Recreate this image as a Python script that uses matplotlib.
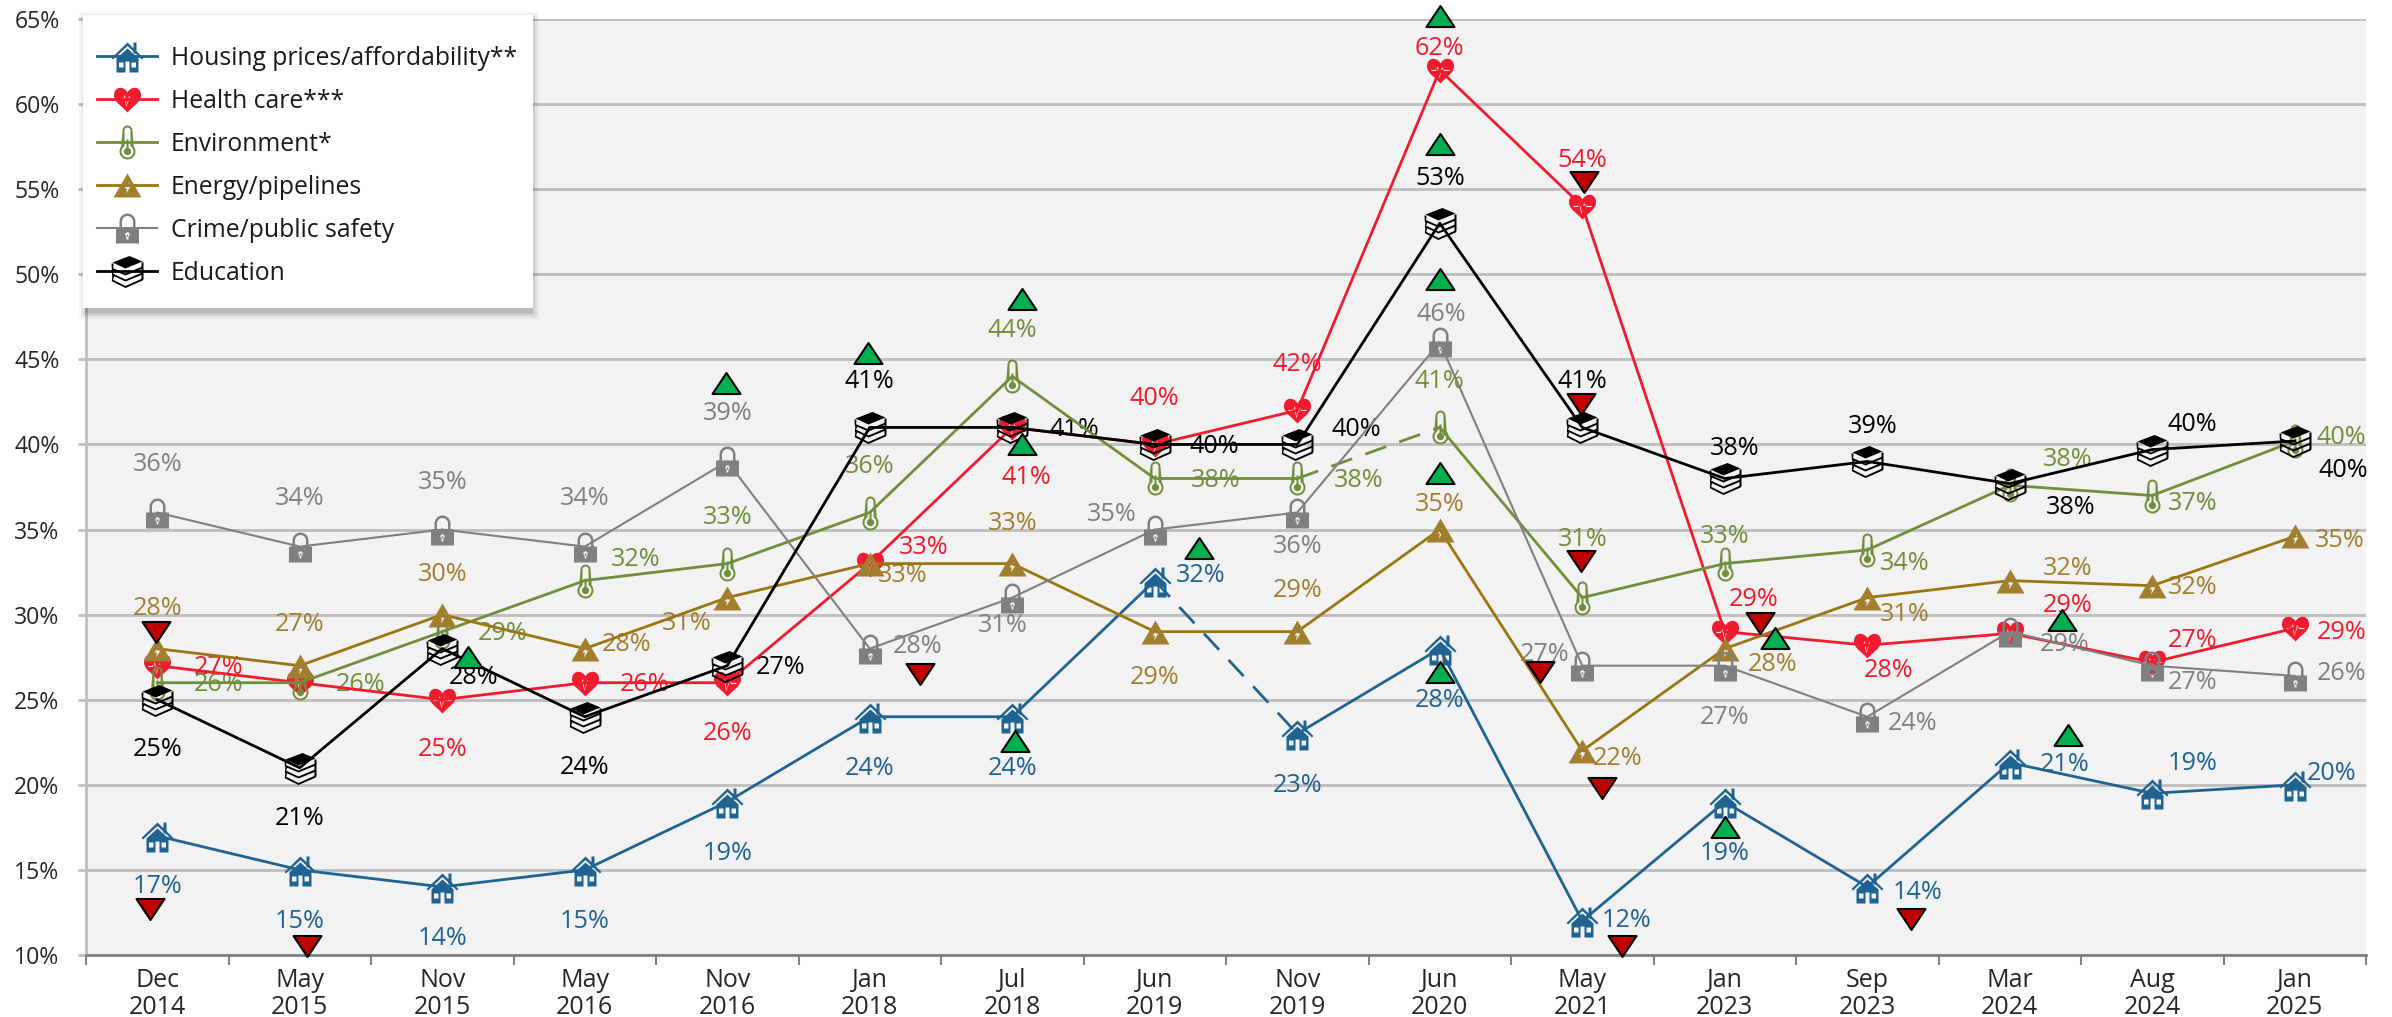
import numpy as np
import matplotlib
matplotlib.use("Agg")
import matplotlib.pyplot as plt
from matplotlib.path import Path
from matplotlib.lines import Line2D
from matplotlib.patches import Rectangle
from matplotlib.transforms import Affine2D

W, H = 2392, 1017
plt.rcParams['font.family'] = ['Open Sans', 'DejaVu Sans']

# ---------- data ----------
categories = ["Dec\n2014", "May\n2015", "Nov\n2015", "May\n2016", "Nov\n2016", "Jan\n2018", "Jul\n2018", "Jun\n2019",
              "Nov\n2019", "Jun\n2020", "May\n2021", "Jan\n2023", "Sep\n2023", "Mar\n2024", "Aug\n2024", "Jan\n2025"]
yticks = [10, 15, 20, 25, 30, 35, 40, 45, 50, 55, 60, 65]

housing = [17, 15, 14, 15, 19, 24, 24, 32, 23, 28, 12, 19, 14, 21.3, 19.5, 20]
health = [27, 26, 25, 26, 26, 33, 41, 40, 42, 62, 54, 29, 28.2, 28.9, 27.2, 29.2]
environment = [26, 26, 29, 32, 33, 36, 44, 38, 38, 41, 31, 33, 33.8, 37.6, 37, 40.2]
energy = [28, 27, 30, 28, 31, 33, 33, 29, 29, 35, 22, 28, 31, 32, 31.7, 34.6]
crime = [36, 34, 35, 34, 39, 28, 31, 35, 36, 46, 27, 27, 24, 29, 27, 26.4]
education = [25, 21, 28, 24, 27, 41, 41, 40, 40, 53, 41, 38, 39, 37.7, 39.7, 40.2]

housing_labels = [17, 15, 14, 15, 19, 24, 24, 32, 23, 28, 12, 19, 14, 21, 19, 20]
health_labels = [27, None, 25, 26, 26, 33, 41, 40, 42, 62, 54, 29, 28, 29, 27, 29]
environment_labels = [26, 26, 29, 32, 33, 36, 44, 38, 38, 41, 31, 33, 34, 38, 37, 40]
energy_labels = [28, 27, 30, 28, 31, 33, 33, 29, 29, 35, 22, 28, 31, 32, 32, 35]
crime_labels = [36, 34, 35, 34, 39, 28, 31, 35, 36, 46, 27, 27, 24, 29, 27, 26]
education_labels = [25, 21, 28, 24, 27, 41, 41, 40, 40, 53, 41, 38, 39, 38, 40, 40]

# significance arrows: category position, percent
up_x = [2.18, 3.99, 4.99, 6.07, 6.07, 6.02, 7.31, 9.0, 9.0, 9.0, 9.0, 9.0, 11.0, 11.35, 13.37, 13.41]
up_y = [27.5, 43.6, 45.4, 48.55, 40.0, 22.6, 33.9, 65.2, 57.66, 49.7, 38.3, 26.6, 17.5, 28.6, 29.7, 22.9]
down_x = [-0.01, -0.05, 1.05, 5.35, 10.01, 9.99, 9.99, 9.7, 10.14, 10.28, 11.25, 12.31]
down_y = [29.0, 12.7, 10.5, 26.5, 55.44, 42.4, 33.15, 26.6, 19.8, 10.5, 29.5, 12.1]

# label offsets from the point, in pixels (right, down)
housing_off = [(0, 49), (0, 50), (0, 50), (0, 50), (0, 50), (0, 50), (0, 50), (46, -7), (0, 50), (0, 50), (44, -2),
               (0, 50), (50, 4), (55, 0), (40, -32), (37, -13)]
health_off = [(61, 0), (0, 0), (0, 48), (60, 0), (0, 49), (54, -18), (14, 48), (0, -48), (0, -48), (0, -24), (0, -48),
              (29, -34), (21, 23), (58, -30), (40, -24), (47, 2)]
environment_off = [(61, 0), (61, 0), (60, 0), (51, -23), (0, -48), (0, -48), (0, -48), (61, 0), (61, 0), (0, -48),
                   (0, -60), (0, -29), (37, 12), (58, -28), (40, 6), (47, -6)]
energy_off = [(0, -42), (0, -43), (0, -42), (42, -6), (-41, 24), (33, 10), (0, -42), (0, 44), (0, -43), (0, -27),
              (35, 6), (48, 14), (37, 15), (58, -14), (40, 0), (45, 2)]
crime_off = [(0, -50), (0, -50), (0, -49), (0, -50), (0, -50), (48, -4), (-10, 26), (-43, -17), (0, 32), (2, -30),
             (-38, -13), (0, 50), (45, 5), (55, 11), (40, 15), (47, -4)]
education_off = [(0, 48), (0, 49), (31, 27), (0, 49), (53, 0), (0, -48), (62, 0), (60, 0), (59, -17), (0, -47),
                 (0, -48), (10, -32), (5, -37), (61, 22), (40, -27), (49, 27)]


# ---------- marker glyphs, drawn in pixels around the data point ----------
def poly(pts, hole=False):
    p = np.asarray(pts, float)
    area = 0.5 * np.sum(p[:, 0] * np.roll(p[:, 1], -1) - np.roll(p[:, 0], -1) * p[:, 1])
    if (area > 0) == hole:
        p = p[::-1]
    v = np.vstack([p, p[0]])
    c = [Path.MOVETO] + [Path.LINETO] * (len(p) - 1) + [Path.CLOSEPOLY]
    return Path(v, c)


def rect(x0, y0, x1, y1, hole=False):
    return poly([(x0, y0), (x1, y0), (x1, y1), (x0, y1)], hole)


def arc(cx, cy, r, a0, a1, n=24):
    t = np.radians(np.linspace(a0, a1, n))
    return np.column_stack([cx + r * np.cos(t), cy + r * np.sin(t)])


def circle(cx, cy, r, hole=False):
    return poly(arc(cx, cy, r, 0, 350, 30), hole)


def stroke(pts, w):
    p = np.asarray(pts, float)
    d = np.gradient(p, axis=0)
    n = np.column_stack([-d[:, 1], d[:, 0]])
    n /= np.linalg.norm(n, axis=1, keepdims=True)
    return np.vstack([p + n * w / 2, (p - n * w / 2)[::-1]])


def join(*paths):
    return Path.make_compound_path(*paths)


house = join(
    poly([(-16, -1.5), (0, 14), (16, -1.5), (14.5, -3), (0, 10.5), (-14.5, -3)]),
    rect(6, 3, 9, 14),
    poly([(-11, -2), (0, 8), (11, -2), (11, -16), (2, -16), (2, -5), (-2, -5), (-2, -16), (-11, -16)]),
    rect(-8.5, -11, -4, -6, True), rect(4, -11, 8.5, -6, True),
)

heart_outer = Path([(0, 7), (-3, 13.5), (-13.5, 14), (-13.5, 4), (-13.5, -3), (-4, -8), (0, -13),
                    (4, -8), (13.5, -3), (13.5, 4), (13.5, 14), (3, 13.5), (0, 7), (0, 7)],
                   [Path.MOVETO] + [Path.CURVE4] * 12 + [Path.CLOSEPOLY])
heart = join(heart_outer, poly(stroke([(-9, 0), (-5, 0), (-3, 4), (-1, -7), (2, 3), (4, 0), (9, 0)], 1.2), True))

th_out = np.vstack([arc(0, 12, 5, 0, 180, 12), arc(0, -9, 8, 141, 399, 30)])
th_in = np.vstack([arc(0, 12, 3, 0, 180, 12), arc(0, -9, 6, 120, 420, 30)])
thermo = join(poly(th_out), poly(th_in, True), circle(0, -9, 3.6), rect(-1, -7, 1, 3))

bolt = join(poly([(-14, -12), (0, 12), (14, -12)]),
            poly([(2, 3), (-3, -3), (-0.5, -3), (-1.5, -8), (3, -1), (0.5, -1)], True))

lock_body = [(-11.5, 1), (11.5, 1), (11.5, -15), (-11.5, -15)]
shackle = np.vstack([[(8, 0)], arc(0, 7, 8, 0, 180, 14), [(-8, 0), (-5.5, 0)], arc(0, 7, 5.5, 180, 0, 14), [(5.5, 0)]])
lock = join(poly(lock_body), poly(shackle), circle(0, -6, 2.2, True), rect(-0.9, -11, 0.9, -6, True))

books = join(
    poly([(-15, 9), (2, 15.5), (15, 10), (-2, 3)]),
    poly(stroke([(-15, 8), (-15, 2.5), (-2, -3), (15, 4)], 2)),
    poly(stroke([(15, 9), (15, 4)], 2)),
    poly(stroke([(-14, 2), (-15, -3), (-2, -9), (15, -2)], 2)),
    poly(stroke([(15, 4), (15, -2)], 2)),
    poly(stroke([(-14, -3), (-15, -9), (-2, -15.5), (15, -8)], 2)),
    poly(stroke([(15, -2), (15, -8)], 2)),
)


def ms(path):
    """marker size in points for a glyph laid out in pixels"""
    return 2 * np.abs(path.vertices).max() * 0.72


tri_up = Path([(-14, -10.5), (14, -10.5), (0, 10.5), (-14, -10.5)], [1, 2, 2, 79])
tri_down = Path([(-14, 10.5), (14, 10.5), (0, -10.5), (-14, 10.5)], [1, 2, 2, 79])

# dash: index of the point that ends the dashed segment
series = [
    ("Housing prices/affordability**", housing, housing_labels, housing_off, '#1F6391', '#1F6391', '#1F6391', house, 2.0, 8),
    ("Health care***", health, health_labels, health_off, '#EE1C2E', '#EE1C2E', '#EE1C2E', heart, 2.0, None),
    ("Environment*", environment, environment_labels, environment_off, '#6F8F3A', '#6F8F3A', '#6F8F3A', thermo, 2.0, 9),
    ("Energy/pipelines", energy, energy_labels, energy_off, '#9A7510', '#A27F2E', '#A27F2E', bolt, 2.0, None),
    ("Crime/public safety", crime, crime_labels, crime_off, '#808080', '#808080', '#808080', lock, 1.5, None),
    ("Education", education, education_labels, education_off, '#000000', '#000000', '#000000', books, 2.0, None),
]

# ---------- figure ----------
fig = plt.figure(figsize=((W + 0.01) / 100, (H + 0.01) / 100), dpi=100, facecolor='white')
ax = fig.add_axes([86 / W, (H - 955) / H, (2366 - 86) / W, (955 - 19) / H])
ax.set_facecolor('#F2F2F2')
ax.set_xlim(-0.5, 15.5)
ax.set_ylim(10, 65)

ax.set_yticks(yticks)
ax.set_yticklabels([f"{t}%" for t in yticks], fontsize=16.6, color='#262626')
ax.tick_params(axis='y', length=6, width=2, color='#BFBFBF', pad=13)
ax.yaxis.grid(True, color='#BFBFBF', linewidth=2.1, zorder=1)
ax.set_axisbelow(True)

xpos = np.arange(len(categories))
ax.set_xticks(np.arange(-0.5, 16, 1))
ax.set_xticklabels([])
ax.set_xticks(xpos, minor=True)
ax.set_xticklabels(categories, minor=True, fontsize=18, color='#262626', linespacing=1.15)
ax.tick_params(axis='x', which='major', length=7, width=1.5, color='#808080')
ax.tick_params(axis='x', which='minor', length=0, pad=9)
for s in ('top', 'right'):
    ax.spines[s].set_visible(False)
ax.spines['left'].set_color('#BFBFBF')
ax.spines['left'].set_linewidth(2)
ax.spines['bottom'].set_color('#808080')
ax.spines['bottom'].set_linewidth(2)

handles = []
for k, (name, vals, labs, offs, lc, mc, tc, glyph, lw, dash) in enumerate(series):
    z = 4 + k * 0.1
    y = np.array(vals, float)
    if dash is None:
        ax.plot(xpos, y, color=lc, lw=lw, zorder=z, clip_on=False, solid_joinstyle='round')
    else:
        ax.plot(xpos[:dash], y[:dash], color=lc, lw=lw, zorder=z, clip_on=False)
        ax.plot(xpos[dash - 1:dash + 1], y[dash - 1:dash + 1], color=lc, lw=lw, zorder=z,
                linestyle=(0, (8, 5)), clip_on=False)
        ax.plot(xpos[dash:], y[dash:], color=lc, lw=lw, zorder=z, clip_on=False)
    ax.plot(xpos, y, linestyle='none', marker=glyph, markersize=ms(glyph), markerfacecolor=mc,
            markeredgewidth=0, zorder=z + 0.05, clip_on=False)
    for xi, yi, lab, (dx, dy) in zip(xpos, y, labs, offs):
        if lab is None:
            continue
        ax.annotate(f"{lab}%", (xi, yi), xytext=(dx, -dy - 2), textcoords='offset pixels', ha='center', va='center',
                    fontsize=18.2, color=tc, zorder=3, annotation_clip=False)
    handles.append(Line2D([0], [0], color=lc, lw=lw, marker=glyph, markersize=ms(glyph), markerfacecolor=mc,
                          markeredgewidth=0, label=name))

ax.plot(up_x, up_y, linestyle='none', marker=tri_up, markersize=ms(tri_up), markerfacecolor='#00B050',
        markeredgecolor='black', markeredgewidth=1.5, zorder=6, clip_on=False)
ax.plot(down_x, down_y, linestyle='none', marker=tri_down, markersize=ms(tri_down), markerfacecolor='#C00000',
        markeredgecolor='black', markeredgewidth=1.5, zorder=6, clip_on=False)

# ---------- legend box with a soft shadow ----------
px = Affine2D().scale(1 / W, 1 / H) + fig.transFigure
x0, x1, y_top, y_bot = 83, 533, 15, 308
for grow, alpha in ((7, 0.03), (5, 0.05), (3, 0.07), (1, 0.10)):
    ax.add_patch(Rectangle((x0 + 3 - grow, H - y_bot - 4 - grow), x1 - x0 + 2 * grow - 4, y_bot - y_top + 2 * grow,
                           transform=px, facecolor='black', alpha=alpha, edgecolor='none', zorder=19, clip_on=False))
ax.add_patch(Rectangle((x0, H - y_bot), x1 - x0, y_bot - y_top, transform=px, facecolor='white',
                       edgecolor='none', zorder=20, clip_on=False))
leg = ax.legend(handles=handles, loc='upper left', bbox_to_anchor=(97 / W, (H - 45.5) / H),
                bbox_transform=fig.transFigure, frameon=False, fontsize=17.8, borderpad=0, borderaxespad=0,
                numpoints=1, handlelength=2.43, handletextpad=0.56, labelspacing=0.73, labelcolor='#1A1A1A')
leg.set_zorder(21)

fig.savefig("out.png", dpi=100, facecolor='white')
